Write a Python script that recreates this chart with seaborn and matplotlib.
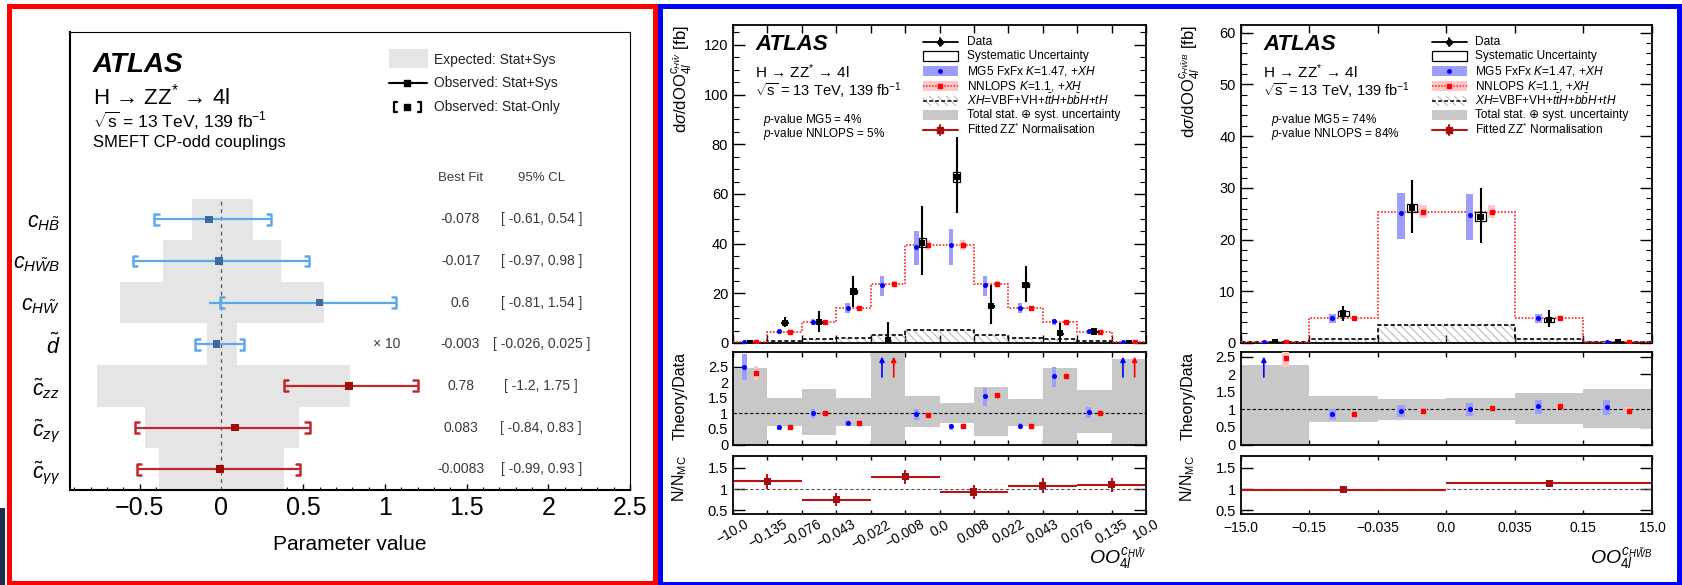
import numpy as np
import pandas as pd
import matplotlib
matplotlib.use("Agg")
import matplotlib.pyplot as plt
from matplotlib.patches import Rectangle
from matplotlib.ticker import MultipleLocator, FixedLocator, FuncFormatter
import seaborn as sns

# ---------------- SMEFT CP-odd coupling limits ----------------
coef_labels = [r"$c_{H\tilde{B}}$", r"$c_{H\tilde{W}B}$", r"$c_{H\tilde{W}}$",
               r"$\tilde{d}$", r"$\tilde{c}_{zz}$", r"$\tilde{c}_{z\gamma}$",
               r"$\tilde{c}_{\gamma\gamma}$"]
best_fit = [-0.078, -0.017, 0.6, -0.003, 0.78, 0.083, -0.0083]
fit_scale = [1, 1, 1, 10, 1, 1, 1]
cl95_text = ["[ -0.61, 0.54 ]", "[ -0.97, 0.98 ]", "[ -0.81, 1.54 ]",
             "[ -0.026, 0.025 ]", "[ -1.2, 1.75 ]", "[ -0.84, 0.83 ]",
             "[ -0.99, 0.93 ]"]
obs_stat_lo = [-0.41, -0.54, -0.01, -0.16, 0.38, -0.53, -0.52]
obs_stat_hi = [0.305, 0.535, 1.07, 0.14, 1.20, 0.54, 0.48]
obs_tot_lo = [-0.41, -0.54, -0.076, -0.16, 0.38, -0.53, -0.52]
obs_tot_hi = [0.305, 0.535, 1.07, 0.14, 1.20, 0.54, 0.48]
exp_lo = [-0.18, -0.36, -0.62, -0.088, -0.76, -0.47, -0.38]
exp_hi = [0.19, 0.366, 0.63, 0.092, 0.785, 0.475, 0.385]

# ---------------- OO(c_HW~) differential cross-section ----------------
hw_edge_labels = ["\u221210.0", "\u22120.135", "\u22120.076", "\u22120.043", "\u22120.022",
                  "\u22120.008", "0.0", "0.008", "0.022", "0.043", "0.076", "0.135", "10.0"]
hw_nnlops = [0.3, 4.6, 8.5, 14.1, 23.6, 39.5, 39.5, 23.6, 14.1, 8.4, 4.6, 0.3]
hw_nnlops_lo = [0.27, 4.3, 8.1, 13.4, 22.4, 37.5, 37.5, 22.4, 13.4, 8.0, 4.3, 0.27]
hw_nnlops_hi = [0.33, 4.9, 8.9, 14.8, 24.8, 41.5, 41.5, 24.8, 14.8, 8.8, 4.9, 0.33]
hw_mg5 = [0.3, 4.7, 8.6, 14.2, 23.4, 38.8, 39.6, 23.5, 14.2, 8.7, 4.7, 0.3]
hw_mg5_lo = [0.25, 3.8, 7.3, 12.0, 18.8, 31.4, 31.4, 18.8, 12.0, 7.3, 3.8, 0.25]
hw_mg5_hi = [0.35, 5.4, 9.8, 16.3, 27.1, 45.2, 46.0, 27.1, 16.3, 9.8, 5.4, 0.35]
hw_data = [0.15, 8.2, 8.5, 20.7, 1.2, 40.4, 66.7, 14.9, 23.4, 3.9, 4.6, 0.15]
hw_data_lo = [0.0, 6.6, 4.6, 14.6, 0.0, 27.4, 52.3, 7.5, 16.4, 0.5, 3.4, 0.0]
hw_data_hi = [0.6, 10.6, 13.0, 27.1, 8.6, 55.0, 83.0, 23.4, 30.8, 7.9, 5.8, 0.6]
hw_syst = [0.05, 0.3, 0.4, 0.6, 0.1, 1.8, 2.0, 0.5, 0.7, 0.2, 0.2, 0.05]
hw_xh = [0.2, 0.8, 1.5, 2.2, 3.2, 5.2, 5.2, 3.2, 2.2, 1.5, 0.8, 0.2]
hw_unc_lo = [0.0, 0.59, 0.30, 0.59, 0.0, 0.55, 0.70, 0.27, 0.59, 0.0, 0.36, 0.0]
hw_unc_hi = [2.47, 1.50, 1.80, 1.50, 3.5, 1.56, 1.35, 1.85, 1.48, 2.47, 1.77, 2.77]
hw_mg5_ratio = [2.5, 0.56, 1.0, 0.69, 19.5, 0.97, 0.58, 1.57, 0.6, 2.22, 1.05, 3.2]
hw_nnlops_ratio = [2.3, 0.55, 1.0, 0.68, 19.7, 0.96, 0.58, 1.6, 0.6, 2.2, 1.02, 3.2]
hw_norm = [1.18, 0.75, 1.29, 0.93, 1.08, 1.10]
hw_norm_err = [0.17, 0.15, 0.17, 0.16, 0.17, 0.17]

# ---------------- OO(c_HW~B) differential cross-section ----------------
hwb_edge_labels = ["\u221215.0", "\u22120.15", "\u22120.035", "0.0", "0.035", "0.15", "15.0"]
hwb_nnlops = [0.2, 4.8, 25.4, 25.4, 4.8, 0.2]
hwb_nnlops_lo = [0.18, 4.55, 24.2, 24.2, 4.55, 0.18]
hwb_nnlops_hi = [0.22, 5.05, 26.7, 26.7, 5.05, 0.22]
hwb_mg5 = [0.1, 4.9, 25.1, 24.8, 4.9, 0.1]
hwb_mg5_lo = [0.08, 3.9, 20.2, 20.0, 3.9, 0.08]
hwb_mg5_hi = [0.12, 5.7, 29.1, 28.8, 5.7, 0.12]
hwb_data = [0.1, 5.7, 26.1, 24.4, 4.5, 0.1]
hwb_data_lo = [0.0, 4.3, 21.2, 19.4, 3.1, 0.0]
hwb_data_hi = [0.3, 7.2, 31.5, 29.9, 6.3, 0.3]
hwb_syst = [0.05, 0.4, 0.85, 0.85, 0.4, 0.05]
hwb_xh = [0.1, 0.7, 3.4, 3.4, 0.7, 0.1]
hwb_unc_lo = [0.0, 0.63, 0.70, 0.69, 0.58, 0.48]
hwb_unc_hi = [2.27, 1.39, 1.30, 1.33, 1.47, 1.57]
hwb_mg5_ratio = [5.0, 0.88, 0.97, 1.02, 1.09, 1.07]
hwb_nnlops_ratio = [2.46, 0.87, 0.97, 1.05, 1.09, 0.96]
hwb_norm = [0.98, 1.14]
hwb_norm_err = [0.05, 0.07]

legend_labels = ["Data", "Systematic Uncertainty", r"MG5 FxFx $K$=1.47, +$XH$",
                 r"NNLOPS $K$=1.1, +$XH$",
                 r"$XH$=VBF+VH+$t\bar{t}H$+$b\bar{b}H$+$tH$",
                 "Total stat. \u2295 syst. uncertainty", r"Fitted ZZ$^{*}$ Normalisation"]

# ---------------- style ----------------
W, H, DPI = 1682, 585, 100
sns.set_theme(style="ticks")
plt.rcParams["font.family"] = ["Liberation Sans", "DejaVu Sans"]
plt.rcParams.update({
    "mathtext.fontset": "custom",
    "mathtext.rm": "Liberation Sans",
    "mathtext.it": "Liberation Sans:italic",
    "mathtext.bf": "Liberation Sans:bold",
    "mathtext.sf": "Liberation Sans",
    "hatch.linewidth": 0.6,
    "axes.linewidth": 1.2,
    "axes.edgecolor": "black",
    "xtick.color": "black",
    "ytick.color": "black",
    "text.color": "black",
})

MG5_BAND = "#9d9dff"
NN_BAND = "#ffc6c6"
UNC_GREY = "#c8c8c8"
HATCH_COL = "#a8a8a8"
NORM_COL = "#b51515"
HATCH = "\\\\\\\\"
H4L = r"H \u2192 ZZ$^{*}$ \u2192 4l".replace(r"\u2192", "\u2192")
SQRTS = r"$\sqrt{\mathrm{s}}$ = 13 TeV, 139 fb$^{\mathrm{-1}}$"

fig = plt.figure(figsize=(W / DPI, H / DPI), dpi=DPI)


def add_ax(x0, y0, x1, y1, **kw):
    return fig.add_axes([x0 / W, 1 - y1 / H, (x1 - x0) / W, (y1 - y0) / H], **kw)


fmt_g = FuncFormatter(lambda v, p: f"{v:g}")

# ================= left panel =================
axL = add_ax(70, 32, 630, 490)
n = len(coef_labels)
rows = np.arange(n)[::-1].astype(float)
axL.barh(rows, np.subtract(exp_hi, exp_lo), left=exp_lo, height=1.0,
         color="#e5e5e5", lw=0, zorder=1)
axL.plot([0, 0], [-0.5, n - 0.5], color="#555555", ls=(0, (3, 3)), lw=0.9, zorder=2)
bar_col = ["#5aa8ee"] * 4 + ["#c0262b"] * 3
mk_col = ["#3a6aa0"] * 4 + ["#a20b0b"] * 3
bh, bd = 0.13, 0.026
for r, lo, hi, slo, shi, c in zip(rows, obs_tot_lo, obs_tot_hi, obs_stat_lo, obs_stat_hi, bar_col):
    axL.plot([lo, hi], [r, r], color=c, lw=1.6, zorder=3, solid_capstyle="butt")
    axL.plot([slo + bd, slo, slo, slo + bd], [r + bh, r + bh, r - bh, r - bh], color=c, lw=1.8, zorder=3)
    axL.plot([shi - bd, shi, shi, shi - bd], [r + bh, r + bh, r - bh, r - bh], color=c, lw=1.8, zorder=3)
fit_df = pd.DataFrame({"x": np.multiply(best_fit, fit_scale), "y": rows, "name": coef_labels})
sns.scatterplot(data=fit_df, x="x", y="y", hue="name", palette=dict(zip(coef_labels, mk_col)),
                marker="s", s=30, edgecolor="none", legend=False, ax=axL, zorder=5)
axL.set_xlim(-0.927, 2.5)
axL.set_ylim(-0.5, 10.5)
axL.set_xticks(np.arange(-0.5, 2.51, 0.5))
axL.set_xticklabels(["\u22120.5", "0", "0.5", "1", "1.5", "2", "2.5"], fontsize=18)
axL.xaxis.set_minor_locator(MultipleLocator(0.1))
axL.tick_params(axis="x", which="major", direction="in", length=4.5, width=1.0, pad=4, top=False)
axL.tick_params(axis="x", which="minor", direction="in", length=2.3, width=0.8, top=False)
axL.set_yticks(rows)
axL.set_yticklabels(coef_labels, fontsize=15.5)
axL.tick_params(axis="y", length=0, pad=7)
axL.set_xlabel("")
axL.set_ylabel("")
for s in ("left", "bottom"):
    axL.spines[s].set_linewidth(1.5)
for s in ("top", "right"):
    axL.spines[s].set_linewidth(0.8)

xb, xc, xm = 1.463, 1.957, 1.01
txt_col = "#3a3a3a"
for r, v, ct, sc in zip(rows, best_fit, cl95_text, fit_scale):
    axL.text(xb, r, str(v), ha="center", va="center", fontsize=10, color=txt_col)
    axL.text(xc, r, ct, ha="center", va="center", fontsize=10, color=txt_col)
    if sc != 1:
        axL.text(xm, r, f"\u00d7 {sc}", ha="center", va="center", fontsize=10, color=txt_col)
axL.text(xb, 6.99, "Best Fit", ha="center", va="center", fontsize=9.5, color=txt_col)
axL.text(xc, 6.99, "95% CL", ha="center", va="center", fontsize=9.5, color=txt_col)


# ================= differential panels =================
def measurement(x0, x1, d):
    nb = len(d["nnlops"])
    edges = np.arange(nb + 1)
    cen = edges[:-1] + 0.5
    off = d["off"]
    axM = add_ax(x0, 25, x1, 343)
    axR = add_ax(x0, 352, x1, 444.5)
    axN = add_ax(x0, 456, x1, 514)

    # main
    axM.stairs(d["xh"], edges, baseline=0, fill=True, facecolor="none",
               edgecolor=HATCH_COL, hatch=HATCH, linewidth=0, zorder=1)
    axM.stairs(d["xh"], edges, baseline=None, color="black", ls=(0, (2.5, 1.5)), lw=1.2, zorder=2)
    axM.stairs(d["nnlops"], edges, baseline=None, color="#ff2020", ls=(0, (1, 1)), lw=1.2, zorder=3)
    axM.bar(cen - off, np.subtract(d["mg5_hi"], d["mg5_lo"]), bottom=d["mg5_lo"],
            width=d["bw"], color=MG5_BAND, lw=0, zorder=4)
    axM.bar(cen + off, np.subtract(d["nn_hi"], d["nn_lo"]), bottom=d["nn_lo"],
            width=d["bw"], color=NN_BAND, lw=0, zorder=4)
    axM.plot(cen - off, d["mg5"], ls="none", marker="o", ms=2.6, color="#0000ff", zorder=5)
    axM.plot(cen + off, d["nnlops"], ls="none", marker="s", ms=2.6, color="#ff0000", zorder=5)
    syst = np.asarray(d["syst"])
    axM.bar(cen, 2 * syst, bottom=np.asarray(d["data"]) - syst, width=d["sw"],
            facecolor="none", edgecolor="black", lw=0.9, zorder=6)
    axM.vlines(cen, d["data_lo"], d["data_hi"], color="black", lw=1.5, zorder=6)
    sns.scatterplot(x=cen, y=d["data"], marker="s", s=20, color="black",
                    edgecolor="none", legend=False, ax=axM, zorder=7)
    axM.set_ylim(0, d["ymax"])
    axM.yaxis.set_major_locator(MultipleLocator(d["major"]))
    axM.yaxis.set_minor_locator(MultipleLocator(d["minor"]))
    axM.yaxis.set_major_formatter(fmt_g)

    # theory / data
    axR.stairs(d["unc_hi"], edges, baseline=d["unc_lo"], fill=True, color=UNC_GREY, lw=0, zorder=1)
    axR.axhline(1, color="black", ls=(0, (3, 2)), lw=0.8, zorder=2)
    rtop = d["rmax"]
    for ratio, cen_c, mark, col, band, lo, hi, mid in (
            (d["mg5_ratio"], cen - off, "o", "#0000ff", MG5_BAND, d["mg5_lo"], d["mg5_hi"], d["mg5"]),
            (d["nn_ratio"], cen + off, "s", "#ff0000", NN_BAND, d["nn_lo"], d["nn_hi"], d["nnlops"])):
        ratio = np.asarray(ratio)
        inside = ratio < rtop
        rlo = ratio * np.asarray(lo) / np.asarray(mid)
        rhi = ratio * np.asarray(hi) / np.asarray(mid)
        axR.bar(cen_c[inside], (rhi - rlo)[inside], bottom=rlo[inside], width=d["bw"],
                color=band, lw=0, zorder=3)
        axR.plot(cen_c[inside], ratio[inside], ls="none", marker=mark, ms=2.6, color=col, zorder=4)
        for xa in cen_c[~inside]:
            axR.annotate("", xy=(xa, 0.95 * rtop), xytext=(xa, 0.73 * rtop),
                         arrowprops=dict(arrowstyle="-|>", color=col, lw=1.2,
                                         mutation_scale=7, shrinkA=0, shrinkB=0), zorder=4)
    axR.set_ylim(0, rtop)
    axR.yaxis.set_major_locator(FixedLocator([0, 0.5, 1, 1.5, 2, 2.5]))
    axR.yaxis.set_major_formatter(fmt_g)

    # fitted ZZ* normalisation
    ng = len(d["norm"])
    gw = nb / ng
    g0 = np.arange(ng) * gw
    gc = g0 + gw / 2
    axN.axhline(1, color="#555555", ls=(0, (3, 2)), lw=0.8, zorder=1)
    axN.hlines(d["norm"], g0, g0 + gw, color=NORM_COL, lw=1.5, zorder=2)
    axN.vlines(gc, np.subtract(d["norm"], d["norm_err"]), np.add(d["norm"], d["norm_err"]),
               color=NORM_COL, lw=1.5, zorder=2)
    sns.scatterplot(x=gc, y=d["norm"], marker="s", s=26, color="#a80d0d",
                    edgecolor="none", legend=False, ax=axN, zorder=3)
    axN.set_ylim(0.41, 1.78)
    axN.yaxis.set_major_locator(FixedLocator([0.5, 1, 1.5]))
    axN.yaxis.set_major_formatter(fmt_g)

    for ax, xl in ((axM, 5.8), (axR, 3.6), (axN, 3.0)):
        ax.set_xlim(0, nb)
        ax.set_xticks(edges)
        ax.tick_params(axis="x", which="major", direction="in", top=True, bottom=True,
                       labelbottom=False, length=xl, width=1.0)
        ax.tick_params(axis="x", which="minor", bottom=False, top=False)
        ax.tick_params(axis="y", which="major", direction="in", left=True, right=True,
                       length=8.6, width=1.0, labelsize=10.5, pad=3.5)
        ax.tick_params(axis="y", which="minor", direction="in", left=True, right=True,
                       length=4.3, width=0.8)
        ax.set_xlabel("")
        ax.set_ylabel("")
        for s in ax.spines.values():
            s.set_linewidth(1.3)
    axN.tick_params(axis="x", labelbottom=True, labelsize=10, pad=d["xpad"])
    axN.set_xticklabels(d["edge_labels"], rotation=d["rot"], ha="center")
    return axM, axR, axN


hw = dict(nnlops=hw_nnlops, nn_lo=hw_nnlops_lo, nn_hi=hw_nnlops_hi, mg5=hw_mg5,
          mg5_lo=hw_mg5_lo, mg5_hi=hw_mg5_hi, data=hw_data, data_lo=hw_data_lo,
          data_hi=hw_data_hi, syst=hw_syst, xh=hw_xh, unc_lo=hw_unc_lo, unc_hi=hw_unc_hi,
          mg5_ratio=hw_mg5_ratio, nn_ratio=hw_nnlops_ratio, norm=hw_norm,
          norm_err=hw_norm_err, edge_labels=hw_edge_labels,
          off=0.17, bw=0.125, sw=0.19, ymax=128, major=20, minor=5, rmax=2.98,
          rot=30, xpad=2.5)
hwb = dict(nnlops=hwb_nnlops, nn_lo=hwb_nnlops_lo, nn_hi=hwb_nnlops_hi, mg5=hwb_mg5,
           mg5_lo=hwb_mg5_lo, mg5_hi=hwb_mg5_hi, data=hwb_data, data_lo=hwb_data_lo,
           data_hi=hwb_data_hi, syst=hwb_syst, xh=hwb_xh, unc_lo=hwb_unc_lo, unc_hi=hwb_unc_hi,
           mg5_ratio=hwb_mg5_ratio, nn_ratio=hwb_nnlops_ratio, norm=hwb_norm,
           norm_err=hwb_norm_err, edge_labels=hwb_edge_labels,
           off=0.16, bw=0.105, sw=0.155, ymax=61.5, major=10, minor=2, rmax=2.64,
           rot=0, xpad=5)
measurement(733, 1146, hw)
measurement(1240.5, 1652, hwb)

# ================= overlay: frames, labels, legends =================
ov = add_ax(0, 0, W, H)
ov.set_xlim(0, W)
ov.set_ylim(H, 0)
ov.axis("off")
ov.patch.set_alpha(0)
ov.set_zorder(10)

ov.add_patch(Rectangle((9.5, 5.8), 655 - 9.5, 583 - 5.8, fill=False, edgecolor="#ff0000",
                       lw=3.6, clip_on=False))
ov.add_patch(Rectangle((660.5, 5.8), 1679.5 - 660.5, 583.5 - 5.8, fill=False, edgecolor="#0000ff",
                       lw=3.6, clip_on=False))
ov.add_patch(Rectangle((0, 508), 5, 77, facecolor="#1f2c4c", lw=0, clip_on=False))

# left panel captions
ov.text(93, 65, "ATLAS", fontsize=20, fontweight="bold", fontstyle="italic", va="center")
ov.text(93, 97, H4L, fontsize=16, va="center")
ov.text(93, 121, SQRTS, fontsize=12.5, va="center")
ov.text(93, 143, "SMEFT CP-odd couplings", fontsize=12, va="center")
ov.text(350, 544, "Parameter value", fontsize=15, ha="center", va="center")

ov.add_patch(Rectangle((389, 49), 39, 19, facecolor="#e5e5e5", lw=0))
ov.plot([389, 427], [83, 83], color="black", lw=1.5)
ov.plot([407.5], [83], marker="s", ms=5, color="black")
for xb0, sgn in ((394, 1), (421, -1)):
    ov.plot([xb0 + 3 * sgn, xb0, xb0, xb0 + 3 * sgn], [102, 102, 112, 112], color="black", lw=1.6)
ov.plot([407.5], [107], marker="s", ms=5, color="black")
for yy, t in ((60, "Expected: Stat+Sys"), (83, "Observed: Stat+Sys"), (107, "Observed: Stat-Only")):
    ov.text(434, yy, t, fontsize=10, va="center", color="#222222")


def captions(xa, xp, ylab_x, ylab, p_mg5, p_nn, xs0, xs1, xt, xlab_x, xlab):
    ov.text(xa, 44, "ATLAS", fontsize=16, fontweight="bold", fontstyle="italic", va="center")
    ov.text(xa, 72, H4L, fontsize=11, va="center")
    ov.text(xa, 91, SQRTS, fontsize=10.5, va="center")
    ov.text(xp, 120, rf"$p$-value MG5 = {p_mg5}%", fontsize=8.5, va="center")
    ov.text(xp, 134, rf"$p$-value NNLOPS = {p_nn}%", fontsize=8.5, va="center")
    ov.text(ylab_x, 25, ylab, rotation=90, ha="center", va="top", fontsize=12)
    ov.text(ylab_x - 3, 352, "Theory/Data", rotation=90, ha="center", va="top", fontsize=11.5)
    ov.text(ylab_x - 3, 455, r"N/N$_{\mathrm{MC}}$", rotation=90, ha="center", va="top", fontsize=11.5)
    ov.text(xlab_x, 572, xlab, ha="right", va="bottom", fontsize=14)

    xm_ = 0.5 * (xs0 + xs1)
    ys = [41.7 + i * 14.7 for i in range(7)]
    ov.plot([xs0, xs1], [ys[0]] * 2, color="black", lw=1.3)
    ov.plot([xm_, xm_], [ys[0] - 4, ys[0] + 4], color="black", lw=1.3)
    ov.plot([xm_], [ys[0]], marker="D", ms=3.5, color="black")
    ov.add_patch(Rectangle((xs0, ys[1] - 5), xs1 - xs0, 10, facecolor="white", edgecolor="black", lw=0.9))
    ov.add_patch(Rectangle((xs0, ys[2] - 5), xs1 - xs0, 10, facecolor=MG5_BAND, lw=0))
    ov.plot([xm_], [ys[2]], marker="o", ms=2.5, color="#0000ff")
    ov.add_patch(Rectangle((xs0, ys[3] - 5), xs1 - xs0, 10, facecolor=NN_BAND, lw=0))
    ov.plot([xs0, xs1], [ys[3]] * 2, color="#ff2020", ls=(0, (1, 1)), lw=1.1)
    ov.plot([xm_], [ys[3]], marker="s", ms=2.5, color="#ff0000")
    ov.add_patch(Rectangle((xs0, ys[4] - 5), xs1 - xs0, 10, facecolor="none", edgecolor=HATCH_COL,
                           hatch=HATCH, lw=0))
    ov.plot([xs0, xs1], [ys[4]] * 2, color="black", ls=(0, (2.5, 1.5)), lw=1.1)
    ov.add_patch(Rectangle((xs0, ys[5] - 5), xs1 - xs0, 10, facecolor=UNC_GREY, lw=0))
    ov.plot([xs0, xs1], [ys[6]] * 2, color=NORM_COL, lw=1.5)
    ov.plot([xm_, xm_], [ys[6] - 5, ys[6] + 5], color=NORM_COL, lw=1.5)
    ov.plot([xm_], [ys[6]], marker="s", ms=4.5, color="#a80d0d")
    for yy, t in zip(ys, legend_labels):
        ov.text(xt, yy, t, fontsize=8.6, va="center")


captions(755, 763, 683, r"d$\sigma$/d$\mathrm{OO}_{4l}^{c_{H\tilde{W}}}$ [fb]", 4, 5,
         923, 958, 967, 1146, r"$OO_{4l}^{c_{H\tilde{W}}}$")
captions(1263.5, 1271, 1191, r"d$\sigma$/d$\mathrm{OO}_{4l}^{c_{H\tilde{W}B}}$ [fb]", 74, 84,
         1432, 1467, 1475, 1652, r"$OO_{4l}^{c_{H\tilde{W}B}}$")

fig.savefig("out.png", dpi=DPI, facecolor="white")
